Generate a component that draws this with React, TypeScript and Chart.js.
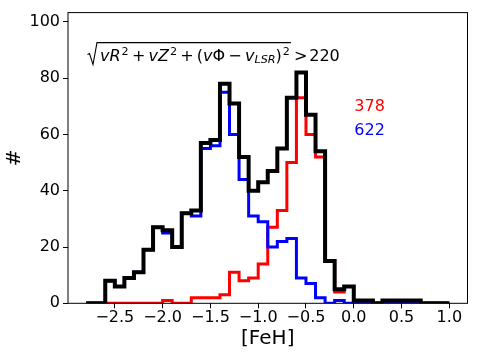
import React, { useEffect, useRef } from 'react';
import { Chart, registerables } from 'chart.js';

Chart.register(...registerables);

// Histogram bin edges ([FeH])
const binEdges = [
  -2.8, -2.7, -2.6, -2.5, -2.4, -2.3, -2.2, -2.1, -2.0, -1.9,
  -1.8, -1.7, -1.6, -1.5, -1.4, -1.3, -1.2, -1.1, -1.0, -0.9,
  -0.8, -0.7, -0.6, -0.5, -0.4, -0.3, -0.2, -0.1, 0.0, 0.1,
  0.2, 0.3, 0.4, 0.5, 0.6, 0.7, 0.8, 0.9, 1.0,
];

// Counts per bin
const totalCounts = [
  0, 0, 8, 6, 9, 11, 19, 27, 26, 20,
  32, 33, 57, 58, 78, 71, 52, 40, 43, 47,
  55, 73, 82, 67, 54, 15, 5, 6, 1, 1,
  0, 1, 1, 1, 1, 0, 0, 0,
];
const blueCounts = [
  0, 0, 8, 6, 9, 11, 19, 27, 25, 20,
  32, 31, 55, 56, 75, 60, 44, 31, 29, 20,
  22, 23, 9, 7, 2, 0, 1, 0, 0, 0,
  0, 0, 0, 0, 0, 0, 0, 0,
];
const redCounts = [
  0, 0, 0, 0, 0, 0, 0, 0, 1, 0,
  0, 2, 2, 2, 3, 11, 8, 9, 14, 27,
  33, 50, 73, 60, 52, 15, 4, 6, 1, 1,
  0, 1, 1, 1, 1, 0, 0, 0,
];

const xTicks = [-2.5, -2.0, -1.5, -1.0, -0.5, 0.0, 0.5, 1.0];
const yTicks = [0, 20, 40, 60, 80, 100];
const redLabel = '378';
const blueLabel = '622';
const xTitle = '[FeH]';
const yTitle = '#';

const FONT = '"DejaVu Sans"';

function stepPoints(counts: number[]) {
  const pts: { x: number; y: number }[] = [{ x: binEdges[0], y: 0 }];
  counts.forEach((c, i) => {
    pts.push({ x: binEdges[i], y: c });
    pts.push({ x: binEdges[i + 1], y: c });
  });
  pts.push({ x: binEdges[binEdges.length - 1], y: 0 });
  return pts;
}

function drawFormula(ctx: CanvasRenderingContext2D, x0: number, base: number) {
  const size = 16;
  const small = size * 0.7;
  const it = `italic ${size}px ${FONT}`;
  const rm = `${size}px ${FONT}`;
  const itS = `italic ${small}px ${FONT}`;
  const rmS = `${small}px ${FONT}`;
  const opPad = size * 0.2;
  type P = { t: string; f: string; dy?: number; op?: boolean; pre?: number };
  const supDy = -size * 0.32;
  const subDy = size * 0.17;
  const inner: P[] = [
    { t: 'vR', f: it },
    { t: '2', f: rmS, dy: supDy, pre: 1 },
    { t: '+', f: rm, op: true },
    { t: 'vZ', f: it },
    { t: '2', f: rmS, dy: supDy, pre: 1 },
    { t: '+', f: rm, op: true },
    { t: '(', f: rm },
    { t: 'v', f: it },
    { t: 'Φ', f: rm },
    { t: '−', f: rm, op: true },
    { t: 'v', f: it },
    { t: 'LSR', f: itS, dy: subDy },
    { t: ')', f: rm },
    { t: '2', f: rmS, dy: supDy, pre: 1 },
  ];
  ctx.save();
  ctx.fillStyle = '#000';
  ctx.textBaseline = 'alphabetic';
  ctx.textAlign = 'left';
  const radW = 11;
  let x = x0 + radW + 1.5;
  for (const p of inner) {
    ctx.font = p.f;
    if (p.op) x += opPad;
    if (p.pre) x += p.pre;
    ctx.fillText(p.t, x, base + (p.dy || 0));
    x += ctx.measureText(p.t).width;
    if (p.op) x += opPad;
  }
  const innerEnd = x + 1;
  // radical sign
  const top = base - 18;
  ctx.strokeStyle = '#000';
  ctx.lineWidth = 1.1;
  ctx.lineJoin = 'miter';
  ctx.beginPath();
  ctx.moveTo(x0, base - 6);
  ctx.lineTo(x0 + 2, base - 7);
  ctx.lineTo(x0 + 5.5, base + 4);
  ctx.lineTo(x0 + radW - 1.5, top);
  ctx.lineTo(innerEnd, top);
  ctx.stroke();
  // "> 220"
  ctx.font = rm;
  x = innerEnd + opPad;
  ctx.fillText('>', x, base);
  x += ctx.measureText('>').width + opPad - 1.5;
  ctx.fillText('220', x, base);
  ctx.restore();
}

const decorPlugin = {
  id: 'decor',
  afterDatasetsDraw(chart: any) {
    const { ctx, chartArea } = chart;
    ctx.save();
    ctx.strokeStyle = '#000';
    ctx.lineWidth = 1;
    ctx.strokeRect(chartArea.left, chartArea.top, chartArea.right - chartArea.left, chartArea.bottom - chartArea.top);
    ctx.restore();
  },
  afterDraw(chart: any) {
    const { ctx, chartArea } = chart;
    drawFormula(ctx, chartArea.left + 19.5, chartArea.top + 48);
    ctx.save();
    ctx.font = `16px ${FONT}`;
    ctx.textBaseline = 'alphabetic';
    ctx.textAlign = 'left';
    const xs = chart.scales.x;
    const lx = xs.getPixelForValue(0.0) + 0.5;
    ctx.fillStyle = '#ff0000';
    ctx.fillText(redLabel, lx, chartArea.top + 98);
    ctx.fillStyle = '#0000ff';
    ctx.fillText(blueLabel, lx, chartArea.top + 122.3);
    ctx.restore();
  },
};

export default function App() {
  const ref = useRef<HTMLCanvasElement | null>(null);
  useEffect(() => {
    document.body.style.margin = '0';
    const canvas = ref.current!;
    const chart = new Chart(canvas, {
      type: 'line',
      data: {
        datasets: [
          {
            label: 'all',
            data: stepPoints(totalCounts),
            borderColor: '#000000',
            borderWidth: 4,
            pointRadius: 0,
            tension: 0,
            fill: false,
            clip: 0,
            borderJoinStyle: 'miter',
          } as any,
          {
            label: 'blue',
            data: stepPoints(blueCounts),
            borderColor: '#0000ff',
            borderWidth: 3,
            pointRadius: 0,
            tension: 0,
            fill: false,
            clip: 0,
            borderJoinStyle: 'miter',
          } as any,
          {
            label: 'red',
            data: stepPoints(redCounts),
            borderColor: '#ff0000',
            borderWidth: 3,
            pointRadius: 0,
            tension: 0,
            fill: false,
            clip: 0,
            borderJoinStyle: 'miter',
          } as any,
        ],
      },
      options: {
        animation: false,
        responsive: false,
        devicePixelRatio: 1,
        layout: { padding: { left: 0, top: 11, right: 11.5, bottom: 0 } },
        plugins: { legend: { display: false }, tooltip: { enabled: false } },
        scales: {
          x: {
            type: 'linear',
            min: -2.99,
            max: 1.19,
            afterBuildTicks: (s: any) => {
              s.ticks = xTicks.map((v) => ({ value: v }));
            },
            afterFit: (s: any) => {
              s.height = 59.7;
            },
            ticks: {
              color: '#000',
              font: { family: 'DejaVu Sans', size: 16 },
              padding: 0,
              maxRotation: 0,
              autoSkip: false,
              callback: (v: any) => Number(v).toFixed(1).replace('-', '−'),
            },
            grid: { display: true, drawOnChartArea: false, drawTicks: true, tickLength: 5, color: '#000', lineWidth: 1 },
            border: { display: false },
            title: {
              display: true,
              text: xTitle,
              color: '#000',
              font: { family: 'DejaVu Sans', size: 20 },
              padding: { top: 0, bottom: 12.5 },
            },
          },
          y: {
            type: 'linear',
            min: 0,
            max: 103.3,
            afterBuildTicks: (s: any) => {
              s.ticks = yTicks.map((v) => ({ value: v }));
            },
            afterFit: (s: any) => {
              s.width = 68;
            },
            ticks: {
              color: '#000',
              font: { family: 'DejaVu Sans', size: 16 },
              padding: 3,
              autoSkip: false,
            },
            grid: { display: true, drawOnChartArea: false, drawTicks: true, tickLength: 5, color: '#000', lineWidth: 1 },
            border: { display: false },
            title: {
              display: true,
              text: yTitle,
              color: '#000',
              font: { family: 'DejaVu Sans', size: 20 },
              padding: { top: 3, bottom: 0 },
            },
          },
        },
      },
      plugins: [decorPlugin],
    });
    return () => chart.destroy();
  }, []);
  return (
    <div style={{ width: 479, height: 363 }}>
      <canvas ref={ref} width={479} height={363} />
    </div>
  );
}
